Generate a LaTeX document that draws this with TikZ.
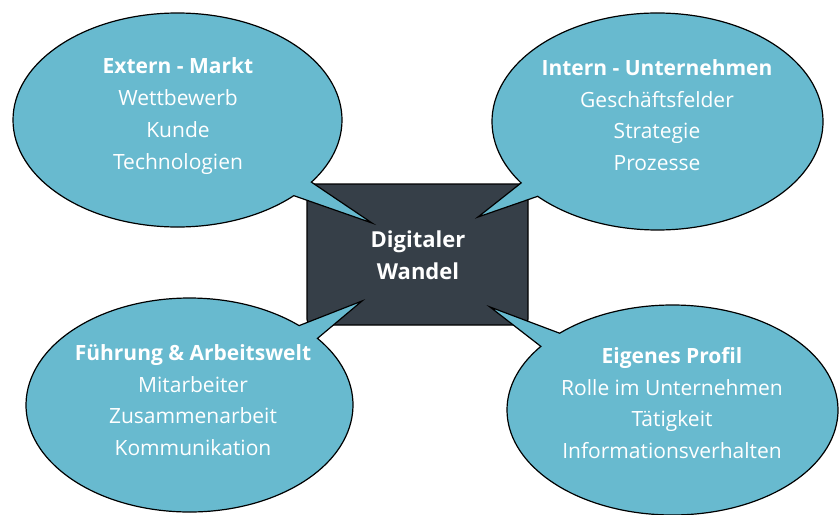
\documentclass[tikz,border=0pt]{standalone}
\usepackage{fontspec}
\setmainfont{Open Sans}
\usetikzlibrary{calc}
\definecolor{bubble}{HTML}{68BACF}
\definecolor{dark}{HTML}{363F48}
\tikzset{
  bubblefill/.style={fill=bubble, draw=black, line width=1.2pt, line join=miter},
  bubbletext/.style={text=white, align=center, font=\fontsize{21}{31.7}\selectfont},
  centerbox/.style={fill=dark, draw=black, line width=1.2pt, rounded corners=6pt},
}
\begin{document}
\begin{tikzpicture}[x=1pt,y=-1pt]
\useasboundingbox (0,0) rectangle (840,514);
\fill[white] (0,0) rectangle (840,514);
% centre box
\draw[centerbox] (307,184) rectangle (528,325);
\coordinate (ctl) at (372,223);
\coordinate (ctr) at (478,217);
\coordinate (cbl) at (362,301);
\coordinate (cbr) at (490,307);
% ellipse centres
\coordinate (etl) at (177.5,120);
\coordinate (etr) at (657.5,121.5);
\coordinate (ebl) at (189.5,405);
\coordinate (ebr) at (672.5,410);
% bubbles
\draw[bubblefill] ($(etl)+(45:164.5 and 107)$) arc[start angle=45, end angle=395.5, x radius=164.5, y radius=107] -- (ctl) -- cycle;
\draw[bubblefill] ($(etr)+(145.5:165.5 and 108.5)$) arc[start angle=145.5, end angle=496.4, x radius=165.5, y radius=108.5] -- (ctr) -- cycle;
\draw[bubblefill] ($(ebl)+(321.5:163.5 and 107)$) arc[start angle=321.5, end angle=672.1, x radius=163.5, y radius=107] -- (cbl) -- cycle;
\draw[bubblefill] ($(ebr)+(227:165.5 and 105)$) arc[start angle=227, end angle=577.3, x radius=165.5, y radius=105] -- (cbr) -- cycle;
% texts
\node[bubbletext, font=\fontsize{22}{31.7}\selectfont] (center) at (418,255) {\textbf{Digitaler}\\\textbf{Wandel}};
\node[bubbletext] (tl) at (178,116) {\textbf{Extern - Markt}\\Wettbewerb\\Kunde\\Technologien};
\node[bubbletext] (tr) at (657,115) {\textbf{Intern - Unternehmen}\\Geschäftsfelder\\Strategie\\Prozesse};
\node[bubbletext] (bl) at (193,400) {\textbf{Führung \& Arbeitswelt}\\Mitarbeiter\\Zusammenarbeit\\Kommunikation};
\node[bubbletext] (br) at (672,403) {\textbf{Eigenes Profil}\\Rolle im Unternehmen\\Tätigkeit\\Informationsverhalten};
\end{tikzpicture}
\end{document}
